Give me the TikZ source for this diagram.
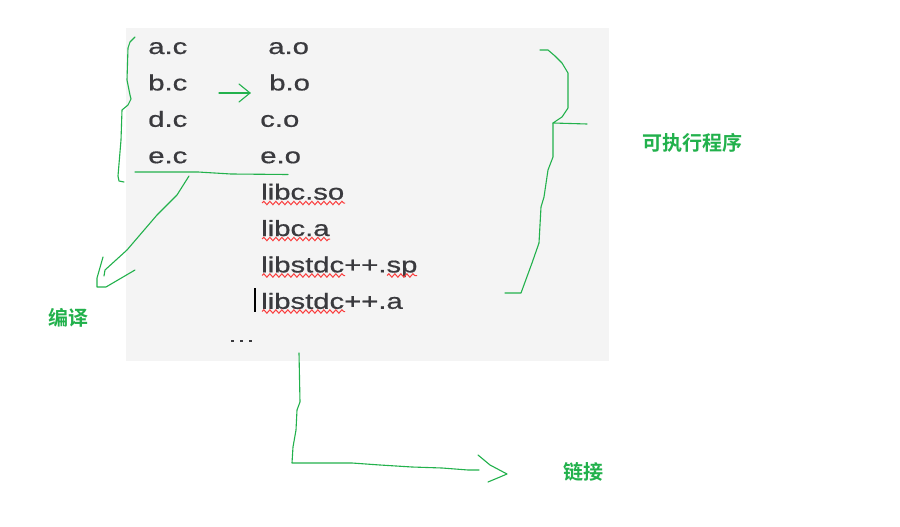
\documentclass[tikz,border=0pt]{standalone}
\usepackage{fontspec}
\setmainfont{Liberation Sans}
\newfontfamily\boxfont[FakeBold=0.6]{Liberation Sans}
\newfontfamily\cjk{Noto Sans CJK SC Bold}
\usetikzlibrary{decorations.pathmorphing}
\definecolor{pgreen}{RGB}{34,177,76}
\definecolor{bggray}{RGB}{244,244,244}
\definecolor{txtgray}{RGB}{58,58,62}
\definecolor{wavered}{RGB}{250,60,60}
\tikzset{
  fname/.style={anchor=base west, inner sep=0pt, text=txtgray, font=\boxfont\fontsize{22}{22}\selectfont, xscale=1.33},
  stroke/.style={draw=pgreen, line width=1.1pt, line join=round, line cap=round},
  label/.style={text=pgreen, font=\cjk\fontsize{20}{20}\selectfont, inner sep=0pt},
  wavy/.style={draw=wavered, line width=1pt, decorate, decoration={snake, segment length=6pt, amplitude=1.7pt}}
}
\begin{document}
\begin{tikzpicture}[x=1pt,y=-1pt]
\useasboundingbox (0,0) rectangle (900,527);
\fill[white] (0,0) rectangle (900,527);
\fill[bggray] (126,28) rectangle (609,361);
% left column
\node[fname] (ac) at (148,54) {a.c};
\node[fname] (bc) at (148,90.4) {b.c};
\node[fname] (dc) at (148,126.8) {d.c};
\node[fname] (ec) at (148,163.2) {e.c};
% right column
\node[fname] (ao) at (268,54) {a.o};
\node[fname] (bo) at (269,90.4) {b.o};
\node[fname] (co) at (260,126.8) {c.o};
\node[fname] (eo) at (260,163.2) {e.o};
\node[fname] (libcso) at (261,199.6) {libc.so};
\node[fname] (libca) at (261,236) {libc.a};
\node[fname] (libsp) at (261,272.4) {libstdc++.sp};
\node[fname] (liba) at (261,308.8) {libstdc++.a};
% wavy underlines
\draw[wavy] (262,203) -- (345,203);
\draw[wavy] (262,239) -- (330,239);
\draw[wavy] (262,275.5) -- (345,275.5);
\draw[wavy] (387,275.5) -- (417,275.5);
\draw[wavy] (262,311.5) -- (345,311.5);
% cursor
\draw[black, line width=2pt] (254.5,288) -- (254.5,312);
% dots
\foreach \xx in {231,240,249} \fill[txtgray] (\xx,340) rectangle ++(2.6,2.4);
% left brace
\draw[stroke] (135,37) -- (130,42) -- (128,48) -- (127,80) -- (130,95) -- (131,99) -- (128,105) -- (122,110) -- (121,140) -- (118,176) -- (119,181) -- (124,182);
% underline
\draw[stroke] (135,172) -- (198,172) -- (231,174) -- (288,174.5);
% arrow between columns
\draw[stroke] (219,93) -- (250,93);
\draw[stroke] (239,84) -- (250,93) -- (239,102);
% compile arrow
\draw[stroke] (189,176) -- (177,195) -- (157,215) -- (127,250) -- (105,270) -- (104,276);
\draw[stroke] (103,257) -- (97,278) -- (97,287) -- (106,287) -- (135,270);
\node[label] (compile) at (68,318) {编译};
% right brace
\draw[stroke] (540,50) -- (548,50) -- (555,56) -- (562,63) -- (568,73) -- (568,108) -- (562,117) -- (553,123) -- (587,124);
\draw[stroke] (553,123) -- (553,157) -- (548,170) -- (544,197) -- (541,207) -- (539,243) -- (532,263) -- (521,293) -- (505,293);
\node[label] (exe) at (692,143) {可执行程序};
% link arrow
\draw[stroke] (299,353) -- (300,402) -- (297,410) -- (296,430) -- (293,447) -- (292,463) -- (352,463) -- (380,465) -- (412,467) -- (442,468) -- (468,470) -- (479,470);
\draw[stroke] (478,455) -- (490,465) -- (507,474) -- (500,477) -- (488,482);
\node[label] (link) at (583,472) {链接};
\end{tikzpicture}
\end{document}
